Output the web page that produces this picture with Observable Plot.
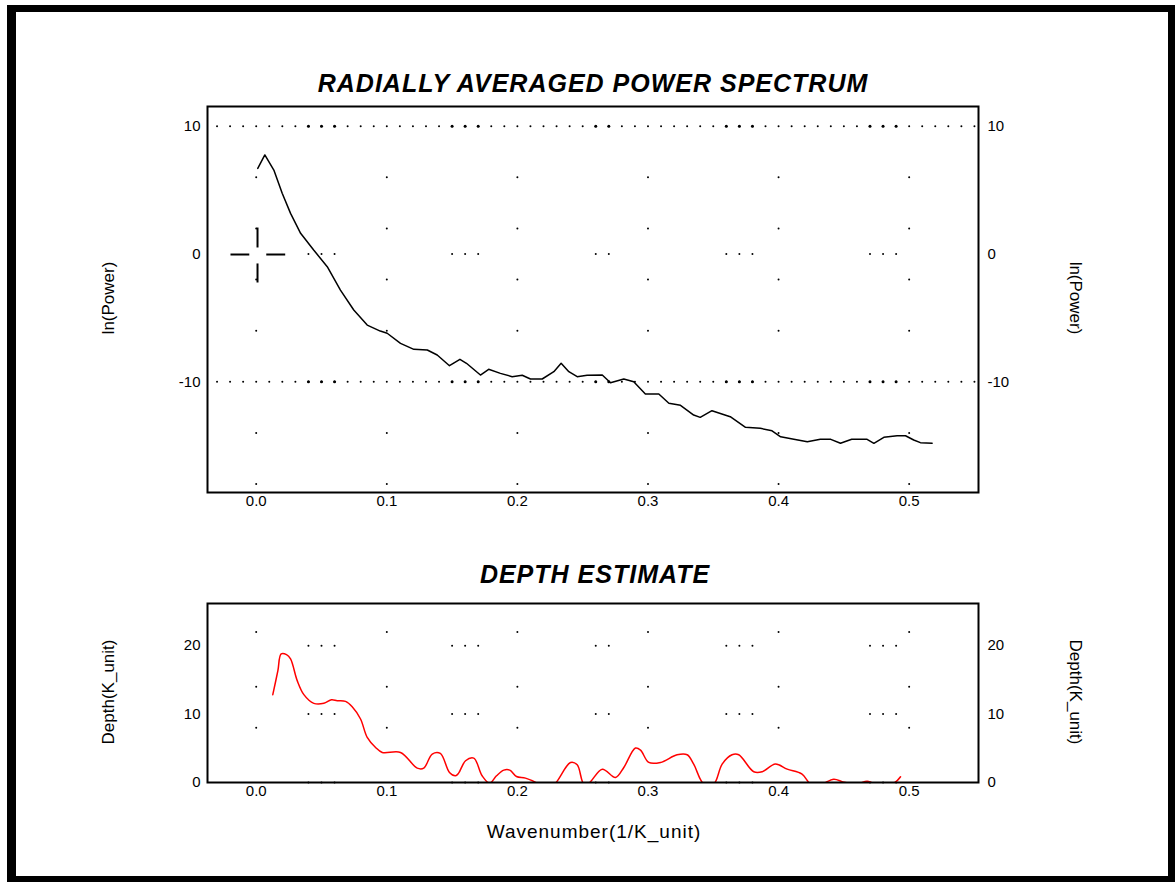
<!DOCTYPE html>
<html>
<head>
<meta charset="utf-8">
<script src="https://cdn.jsdelivr.net/npm/d3@7"></script>
<script src="https://cdn.jsdelivr.net/npm/@observablehq/plot@0.6"></script>
<style>
  html, body { margin: 0; padding: 0; background: #fff; }
  #page { position: relative; width: 1175px; height: 882px; overflow: hidden; background: #fff;
          font-family: "Liberation Sans", Arial, sans-serif; }
  #border { position: absolute; left: 7px; top: 5px; width: 1168px; height: 877px; box-sizing: border-box;
            border-left: 9px solid #000; border-top: 7px solid #000; border-right: 7px solid #000; border-bottom: 6px solid #000; }
  .chart { position: absolute; left: 0; }
  #overlay { position: absolute; left: 0; top: 0; }
</style>
</head>
<body>
<div id="page">
  <div id="border"></div>
  <div id="top" class="chart" style="top:96px"></div>
  <div id="bottom" class="chart" style="top:593px"></div>
</div>
<script>
// ---------- data ----------
const xTicks = [0, 0.1, 0.2, 0.3, 0.4, 0.5];
const powerYTicks = [-10, 0, 10];
const depthYTicks = [0, 10, 20];

const titleTop = "RADIALLY AVERAGED POWER SPECTRUM";
const titleBottom = "DEPTH ESTIMATE";
const labelPower = "ln(Power)";
const labelDepth = "Depth(K_unit)";
const labelWave = "Wavenumber(1/K_unit)";

// radially averaged power spectrum: wavenumber, ln(power)
const powerX = [0.0012,0.0066,0.0135,0.0199,0.0263,0.034,0.044,0.0544,0.0645,0.0747,0.085,0.095,0.1003,0.1105,0.1207,0.131,0.1386,0.148,0.156,0.161,0.1717,0.178,0.187,0.196,0.2037,0.21,0.219,0.2279,0.2335,0.2394,0.2458,0.2534,0.265,0.2713,0.2815,0.2891,0.298,0.3083,0.316,0.3249,0.335,0.340,0.349,0.363,0.3747,0.386,0.395,0.4016,0.4117,0.422,0.432,0.44,0.4474,0.456,0.4678,0.473,0.4806,0.4908,0.4972,0.5035,0.5086,0.5176];
const powerY = [6.7,7.75,6.57,4.75,3.18,1.62,0.31,-0.99,-2.82,-4.38,-5.56,-6.03,-6.2,-6.99,-7.46,-7.51,-7.9,-8.74,-8.24,-8.55,-9.47,-9.02,-9.34,-9.6,-9.49,-9.78,-9.78,-9.21,-8.55,-9.21,-9.6,-9.49,-9.47,-10.07,-9.78,-9.99,-10.95,-10.95,-11.68,-11.84,-12.6,-12.78,-12.26,-12.73,-13.56,-13.64,-13.83,-14.3,-14.5,-14.69,-14.5,-14.5,-14.81,-14.5,-14.5,-14.81,-14.34,-14.22,-14.22,-14.55,-14.76,-14.81];

// depth estimate: wavenumber, depth
const depthX = [0.0127,0.0166,0.0191,0.0232,0.0263,0.0314,0.0365,0.0441,0.0518,0.0577,0.062,0.0684,0.0735,0.0799,0.085,0.0914,0.0965,0.1105,0.1233,0.1283,0.1348,0.141,0.148,0.1526,0.155,0.1603,0.1666,0.173,0.1788,0.184,0.1896,0.1942,0.1993,0.2062,0.215,0.222,0.2292,0.2407,0.2458,0.2508,0.2547,0.265,0.2751,0.2815,0.2904,0.2943,0.3006,0.3096,0.3223,0.33,0.335,0.3427,0.3504,0.3568,0.3644,0.3695,0.381,0.3874,0.3976,0.4066,0.418,0.4244,0.432,0.4423,0.45,0.46,0.4678,0.473,0.488,0.4934];
const depthY = [12.84,16.35,18.8,18.7,18.07,14.89,12.84,11.57,11.57,12.1,11.96,11.86,11.08,9.28,6.59,5.12,4.39,4.39,2.1,2.1,4.16,4.25,1.46,0.98,1.37,3.18,3.57,0.98,-0.1,0.98,1.81,1.81,0.88,0.64,-0.1,-1.2,-0.1,2.93,2.59,-0.2,-0.1,1.95,0.73,2.2,5.04,4.74,2.93,2.93,4.05,4.05,2.69,-0.2,-0.2,2.69,4.05,4.05,1.57,1.57,2.69,1.95,1.22,-0.2,-0.3,0.49,0.05,-0.2,0.2,-0.1,-0.1,0.83];

// dotted grid pattern of the original plot
const gridLineX = d3.range(-3, 56).map(i => i / 100);
const groupX = [0.04, 0.05, 0.06, 0.15, 0.16, 0.17, 0.26, 0.27, 0.36, 0.37, 0.38, 0.47, 0.48, 0.49];
const powerLineY = [10, -10];
const powerGroupY = [0];
const powerColY = [6, 2, -2, -6, -14, -18];
const depthGroupY = [20, 10, 0];
const depthColY = [22, 14, 8];

// crosshair cursor (data units)
const cursorX1 = [-0.0197, 0.0077, 0.001, 0.001];
const cursorX2 = [-0.0053, 0.0222, 0.001, 0.001];
const cursorY1 = [-0.04, -0.04, 2.07, -0.74];
const cursorY2 = [-0.04, -0.04, 0.51, -2.23];

// ---------- build ----------
const power = powerX.map((x, i) => ({x, y: powerY[i]}));
const depth = depthX.map((x, i) => ({x, y: depthY[i]}));
const cursor = cursorX1.map((x1, i) => ({x1, x2: cursorX2[i], y1: cursorY1[i], y2: cursorY2[i]}));
const cross = (xs, ys) => xs.flatMap(x => ys.map(y => ({x, y})));

const font = '"Liberation Sans", Arial, sans-serif';
const common = {
  width: 1175,
  marginLeft: 207, marginRight: 197, marginTop: 10, marginBottom: 30,
  x: {domain: [-0.0373, 0.5531]},
  style: {fontFamily: font, fontSize: "15px", color: "#000", background: "transparent", overflow: "visible"}
};

const intFmt = d => String(d);
const axes = (yTicks) => [
  Plot.axisX({ticks: xTicks, tickSize: 0, tickPadding: 3, tickFormat: d3.format(".1f"), label: null}),
  Plot.axisY({anchor: "left", ticks: yTicks, tickSize: 0, tickPadding: 7, tickFormat: intFmt, label: null}),
  Plot.axisY({anchor: "right", ticks: yTicks, tickSize: 0, tickPadding: 9, tickFormat: intFmt, label: null})
];

const dotStyle = {x: "x", y: "y", r: 1, fill: "#000", stroke: "none"};

const topPlot = Plot.plot({
  ...common,
  height: 426,
  y: {domain: [-18.66, 11.54]},
  marks: [
    Plot.dot(cross(gridLineX, powerLineY), dotStyle),
    Plot.dot(cross(groupX, powerLineY), {...dotStyle, r: 1.5}),
    Plot.dot(cross(groupX, powerGroupY), dotStyle),
    Plot.dot(cross(xTicks, powerColY), dotStyle),
    Plot.line(power, {x: "x", y: "y", stroke: "#000", strokeWidth: 1.5, clip: true}),
    Plot.link(cursor, {x1: "x1", y1: "y1", x2: "x2", y2: "y2", stroke: "#000", strokeWidth: 2}),
    Plot.frame({stroke: "#000", strokeWidth: 2}),
    ...axes(powerYTicks)
  ]
});
document.getElementById("top").appendChild(topPlot);

const bottomPlot = Plot.plot({
  ...common,
  height: 219,
  y: {domain: [0, 26.16]},
  marks: [
    Plot.dot(cross(groupX, depthGroupY), dotStyle),
    Plot.dot(cross(xTicks, depthColY), dotStyle),
    Plot.line(depth, {x: "x", y: "y", stroke: "#ff0000", strokeWidth: 1.5, curve: "catmull-rom", clip: true}),
    Plot.frame({stroke: "#000", strokeWidth: 2}),
    ...axes(depthYTicks)
  ]
});
document.getElementById("bottom").appendChild(bottomPlot);

// ---------- text overlay ----------
const svg = d3.select("#page").append("svg")
  .attr("id", "overlay").attr("width", 1175).attr("height", 882)
  .style("font-family", font);

function title(txt, x, y) {
  svg.append("text").attr("x", x).attr("y", y).attr("text-anchor", "middle")
    .attr("font-size", 25).attr("font-weight", "bold").attr("font-style", "italic")
    .attr("letter-spacing", "1px").attr("fill", "#000").text(txt);
}
title(titleTop, 593, 92);
title(titleBottom, 595, 583);

function vlabel(txt, x, y, angle) {
  svg.append("text").attr("transform", `translate(${x},${y}) rotate(${angle})`)
    .attr("text-anchor", "middle").attr("dy", "0.35em")
    .attr("font-size", 17).attr("fill", "#000").text(txt);
}
vlabel(labelPower, 108, 298, -90);
vlabel(labelPower, 1076, 298, 90);
vlabel(labelDepth, 108, 692, -90);
vlabel(labelDepth, 1076, 692, 90);

svg.append("text").attr("x", 594).attr("y", 838).attr("text-anchor", "middle")
  .attr("font-size", 19).attr("letter-spacing", "1px").attr("fill", "#000").text(labelWave);
</script>
</body>
</html>
